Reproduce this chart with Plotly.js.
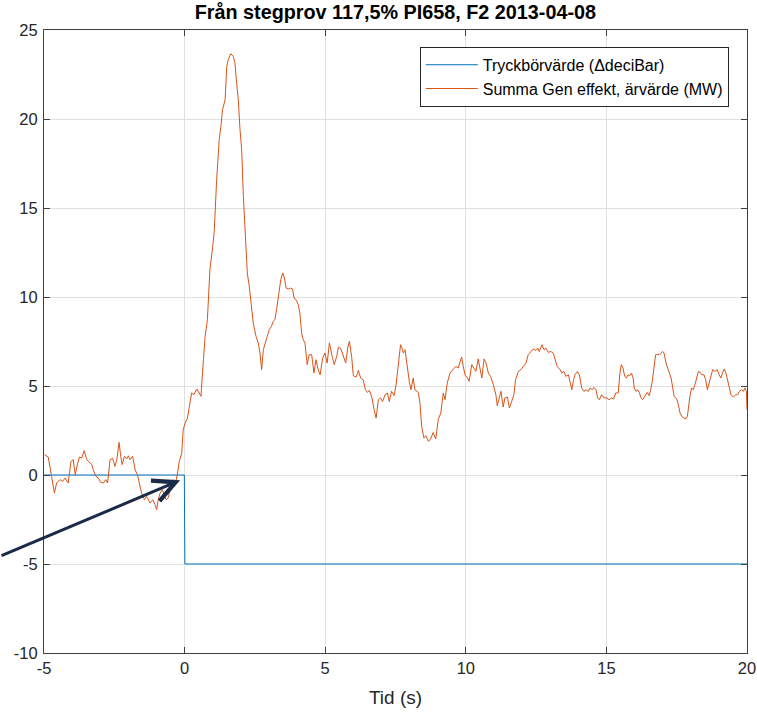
<!DOCTYPE html>
<html>
<head>
<meta charset="utf-8">
<script src="https://cdn.plot.ly/plotly-3.0.1.min.js"></script>
<style>html,body{margin:0;padding:0;background:#fff;}#chart{width:757px;height:712px;}</style>
</head>
<body>
<div id="chart"></div>
<script>
// Setpoint (Tryckbörvärde)
const setX = [-5, -0.01, 0.01, 20];
const setY = [0, 0, -5, -5];

// Summa Gen effekt, ärvärde (MW)
const genX = [-4.98,-4.85,-4.73,-4.63,-4.55,-4.43,-4.34,-4.25,-4.14,-4.04,-3.96,-3.89,-3.8,-3.74,-3.66,-3.57,-3.48,-3.39,-3.3,-3.25,-3.15,-3.07,-2.98,-2.89,-2.8,-2.74,-2.65,-2.56,-2.48,-2.41,-2.33,-2.27,-2.22,-2.14,-2.06,-2.0,-1.94,-1.85,-1.76,-1.68,-1.61,-1.53,-1.43,-1.35,-1.23,-1.13,-1.05,-0.99,-0.94,-0.87,-0.79,-0.72,-0.66,-0.58,-0.5,-0.4,-0.32,-0.25,-0.19,-0.1,-0.05,0.02,0.1,0.17,0.25,0.33,0.43,0.52,0.58,0.67,0.73,0.81,0.9,1.0,1.05,1.14,1.23,1.29,1.35,1.44,1.5,1.55,1.64,1.73,1.79,1.85,1.91,1.97,2.03,2.09,2.15,2.23,2.3,2.39,2.44,2.54,2.62,2.68,2.74,2.8,2.86,2.94,3.01,3.09,3.15,3.21,3.27,3.33,3.42,3.49,3.55,3.61,3.69,3.77,3.84,3.89,3.96,4.04,4.1,4.16,4.22,4.28,4.36,4.43,4.52,4.6,4.67,4.75,4.82,4.91,4.99,5.07,5.15,5.25,5.32,5.41,5.47,5.56,5.64,5.73,5.8,5.86,5.94,6.0,6.1,6.18,6.26,6.35,6.43,6.5,6.57,6.65,6.74,6.81,6.89,6.97,7.04,7.13,7.21,7.28,7.36,7.45,7.52,7.6,7.68,7.73,7.78,7.84,7.9,7.99,8.05,8.13,8.19,8.31,8.37,8.43,8.51,8.58,8.67,8.75,8.84,8.93,9.02,9.11,9.2,9.26,9.34,9.44,9.56,9.65,9.73,9.85,9.91,9.98,10.03,10.12,10.21,10.29,10.36,10.44,10.5,10.57,10.65,10.72,10.8,10.88,10.98,11.07,11.12,11.19,11.25,11.33,11.39,11.48,11.55,11.63,11.71,11.77,11.87,11.96,12.05,12.14,12.22,12.31,12.4,12.49,12.56,12.61,12.71,12.78,12.85,12.93,13.02,13.11,13.17,13.25,13.35,13.41,13.49,13.56,13.65,13.71,13.77,13.82,13.88,13.97,14.04,14.12,14.2,14.27,14.36,14.42,14.5,14.56,14.63,14.69,14.75,14.83,14.91,15.0,15.1,15.18,15.26,15.33,15.42,15.48,15.53,15.59,15.65,15.71,15.77,15.83,15.89,15.95,15.99,16.05,16.11,16.17,16.23,16.29,16.38,16.45,16.52,16.57,16.63,16.69,16.75,16.83,16.92,17.0,17.05,17.12,17.18,17.24,17.3,17.36,17.41,17.5,17.56,17.62,17.68,17.76,17.83,17.88,17.91,17.97,18.03,18.09,18.15,18.21,18.27,18.33,18.39,18.47,18.53,18.59,18.65,18.72,18.78,18.86,18.94,19.01,19.07,19.13,19.19,19.25,19.31,19.37,19.43,19.51,19.6,19.67,19.73,19.81,19.87,19.93,19.98,20.0];
const genY = [1.14,1.01,-0.08,-1.01,-0.45,-0.26,-0.36,-0.17,-0.45,0.76,0.86,0.02,0.67,1.01,0.95,1.37,0.86,0.71,0.58,0.3,-0.08,-0.17,-0.42,-0.45,-0.26,-0.45,0.86,0.95,0.48,0.86,1.83,1.05,0.58,1.05,0.9,1.08,0.86,1.05,0.3,0.02,-0.45,-1.01,-1.39,-1.2,-1.57,-1.39,-1.67,-1.95,-1.39,-1.01,-0.83,-1.2,-1.39,-1.29,-0.64,-0.26,-0.45,0.11,0.76,1.24,2.54,2.92,3.2,3.85,4.61,4.51,4.83,4.61,4.42,6.48,7.79,8.72,11.53,12.84,13.6,16.59,18.84,19.58,20.52,21.08,22.96,23.33,23.67,23.52,23.15,22.02,21.08,19.4,18.28,15.65,13.6,11.35,10.6,9.29,8.54,7.79,7.42,6.85,5.92,7.04,7.42,7.79,8.16,8.35,8.63,8.72,9.29,10.03,10.97,11.35,11.07,10.5,10.45,10.5,10.45,9.94,9.85,9.57,9.1,7.98,7.6,7.42,6.2,6.76,6.76,5.73,6.48,5.92,5.63,6.57,6.85,6.29,7.42,6.66,6.2,6.66,7.19,7.08,6.66,6.29,7.13,7.51,6.66,5.58,5.5,5.88,5.45,5.35,4.79,4.64,4.75,4.42,3.67,3.2,4.23,4.33,4.13,4.51,4.61,4.13,4.7,4.46,5.07,6.29,7.32,7.13,6.85,7.04,6.29,5.26,4.79,5.45,4.79,4.64,4.04,2.73,2.08,2.21,1.89,2.02,2.39,2.02,3.11,3.48,4.61,4.23,5.17,5.73,5.96,6.1,6.01,6.63,6.1,5.58,5.54,5.26,6.2,5.96,5.82,6.52,6.1,5.45,6.52,6.29,5.73,5.54,5.07,4.51,3.89,4.33,4.7,3.82,4.33,4.38,3.76,4.13,4.51,5.35,5.82,5.92,6.1,6.29,6.76,6.94,7.08,7.0,7.13,6.94,7.32,7.04,7.13,6.89,6.94,6.85,6.57,6.1,5.92,5.73,5.82,5.54,5.63,5.26,4.79,5.26,5.63,5.82,5.63,4.89,4.7,4.79,4.7,4.89,4.79,4.92,4.79,4.33,4.23,4.51,4.33,4.33,4.23,4.33,4.27,4.61,4.61,5.73,6.2,6.01,5.54,5.45,5.63,5.58,5.73,5.45,4.89,4.7,4.79,4.64,4.33,4.23,4.51,4.64,4.46,4.75,5.26,6.1,6.76,6.76,6.81,6.94,6.85,6.29,6.01,5.82,5.45,4.89,4.42,4.27,3.95,3.48,3.29,3.2,3.15,3.29,3.76,4.42,4.89,4.79,5.07,5.45,5.82,5.77,5.63,5.63,5.35,4.79,5.17,5.63,5.92,5.82,5.92,5.63,5.45,5.73,5.96,5.73,5.26,4.79,4.51,4.38,4.51,4.51,4.7,4.79,4.7,4.89,4.7,3.67];

const xTickVals = [-5, 0, 5, 10, 15, 20];
const xTickText = ['-5', '0', '5', '10', '15', '20'];
const yTickVals = [-10, -5, 0, 5, 10, 15, 20, 25];
const yTickText = ['-10', '-5', '0', '5', '10', '15', '20', '25'];

const FONT = 'Liberation Sans, Arial, Helvetica, sans-serif';
const AX = '#262626';

const traces = [
  {x: setX, y: setY, type: 'scatter', mode: 'lines', name: 'Tryckbörvärde (\u0394deciBar)',
   line: {color: '#0072BD', width: 1}},
  {x: genX, y: genY, type: 'scatter', mode: 'lines', name: 'Summa Gen effekt, ärvärde (MW)',
   line: {color: '#D95319', width: 1}}
];

const axisCommon = {
  showline: true, linecolor: '#404040', linewidth: 1, mirror: 'ticks',
  ticks: 'inside', ticklen: 6, tickwidth: 1, tickcolor: '#404040',
  showgrid: true, gridcolor: '#e0e0e0', gridwidth: 1, zeroline: false,
  tickfont: {family: FONT, size: 16.5, color: AX}
};

const layout = {
  width: 757, height: 712,
  margin: {l: 44, r: 10, t: 30, b: 59},
  paper_bgcolor: '#fff', plot_bgcolor: '#fff',
  font: {family: FONT, color: AX},
  title: {text: '<b>Från stegprov 117,5% PI658, F2 2013-04-08</b>', font: {family: FONT, size: 19.8, color: '#000'},
          x: 0.5223, xanchor: 'center', y: 0.983, yanchor: 'middle'},
  xaxis: Object.assign({}, axisCommon, {
    range: [-5, 20], tickmode: 'array', tickvals: xTickVals, ticktext: xTickText,
    title: {text: 'Tid (s)', font: {family: FONT, size: 19, color: AX}, standoff: 14}
  }),
  yaxis: Object.assign({}, axisCommon, {
    range: [-10, 25], tickmode: 'array', tickvals: yTickVals, ticktext: yTickText,
    ticklabelstandoff: 2
  }),
  showlegend: true,
  legend: {x: 0.974, xanchor: 'right', y: 0.973, yanchor: 'top',
           bgcolor: '#fff', bordercolor: '#262626', borderwidth: 1, itemwidth: 52,
           font: {family: FONT, size: 16, color: '#000'}, tracegroupgap: 0},
  annotations: [{
    x: -0.16, y: -0.3, xref: 'x', yref: 'y', text: '', showarrow: true,
    ax: -184, ay: 76, arrowhead: 5, arrowsize: 1.45, arrowwidth: 3, arrowcolor: '#1b2a47'
  }]
};

Plotly.newPlot('chart', traces, layout, {displayModeBar: false, staticPlot: true});
</script>
</body>
</html>
